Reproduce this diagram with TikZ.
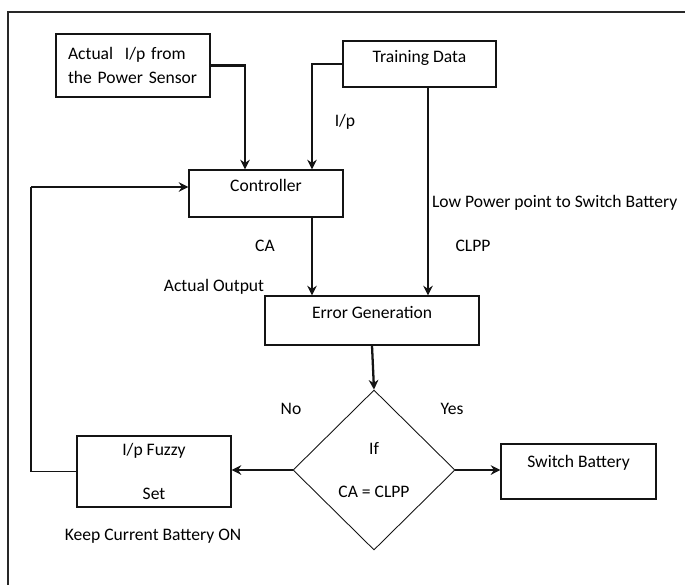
\documentclass[tikz,border=0pt]{standalone}
\usepackage{fontspec}
\setmainfont{Carlito}
\usepackage{tikz}
\usetikzlibrary{shapes.geometric, arrows.meta, positioning, calc}
\definecolor{inkblack}{RGB}{20,20,20}
\definecolor{framegray}{RGB}{40,40,40}
\tikzset{
  box/.style={rectangle, draw=inkblack, fill=white, align=center,
    font=\normalsize, line width=0.7pt, inner sep=0pt},
  upbox/.style={box, text depth=#1},
  decision/.style={diamond, draw=inkblack, fill=white, align=center,
    font=\normalsize, line width=0.5pt, inner sep=0pt,
    minimum width=3.24cm, minimum height=3.2cm},
  arrow/.style={-{Stealth[length=5.5pt, width=5.5pt]}, line width=1.3pt, color=inkblack},
  line/.style={line width=0.6pt, color=inkblack},
  tag/.style={font=\normalsize, inner sep=1pt}
}

\begin{document}
\begin{tikzpicture}[x=0.02cm, y=-0.02cm]
  \useasboundingbox (0,0) rectangle (685,585);
  % frame
  \draw[framegray, line width=1.3pt] (685,12) -- (8,12) -- (8,585);

  % blocks
  \node[box, minimum width=3.08cm, minimum height=1.26cm, text width=2.6cm, align=left] (sensor) at (133,65.5)
    {Actual~~I/p from\\[2pt]the Power Sensor};
  \node[upbox=9pt, minimum width=3.06cm, minimum height=0.92cm] (train) at (419.5,64) {Training Data};
  \node[upbox=9pt, minimum width=3.08cm, minimum height=0.94cm] (ctrl) at (266,193.5) {Controller};
  \node[upbox=9pt, minimum width=4.28cm, minimum height=0.98cm] (err) at (372,320.5) {Error Generation};
  \node[decision] (dec) at (374,470) {If\\[0.45cm]CA = CLPP};
  \node[box, minimum width=3.08cm, minimum height=1.42cm] (fuzzy) at (154,471.5) {I/p Fuzzy\\[0.45cm]Set};
  \node[upbox=11pt, minimum width=3.10cm, minimum height=1.1cm] (switch) at (578.5,471.5) {Switch Battery};

  % labels
  \node[tag] (ip) at (345,122) {I/p};
  \node[tag, anchor=west] (lowpow) at (430,203) {Low Power point to Switch Battery};
  \node[tag] (clpp) at (473,246) {CLPP};
  \node[tag] (ca) at (265,246) {CA};
  \node[tag] (actout) at (214,287) {Actual Output};
  \node[tag] (no) at (291,409) {No};
  \node[tag] (yes) at (452,409) {Yes};
  \node[tag] (keep) at (153,536) {Keep Current Battery ON};

  % connectors
  \draw[arrow] (sensor.east) -| ([xshift=-0.42cm]ctrl.north);
  \draw[arrow] (train.west) -| ([xshift=0.92cm]ctrl.north);
  \draw[arrow] ([xshift=0.17cm]train.south) -- ([xshift=0.17cm]train.south |- err.north);
  \draw[arrow] ([xshift=0.92cm]ctrl.south) -- ([xshift=0.92cm]ctrl.south |- err.north);
  \draw[arrow] (err.south) -- (dec.north);
  \draw[arrow] (dec.west) -- (dec.west -| fuzzy.east);
  \draw[arrow] (dec.east) -- (dec.east -| switch.west);

  \coordinate (fb) at (31,187);
  \draw[line] (fuzzy.west) -| (fb);
  \draw[arrow] (fb) -- (fb -| ctrl.west);
\end{tikzpicture}
\end{document}
